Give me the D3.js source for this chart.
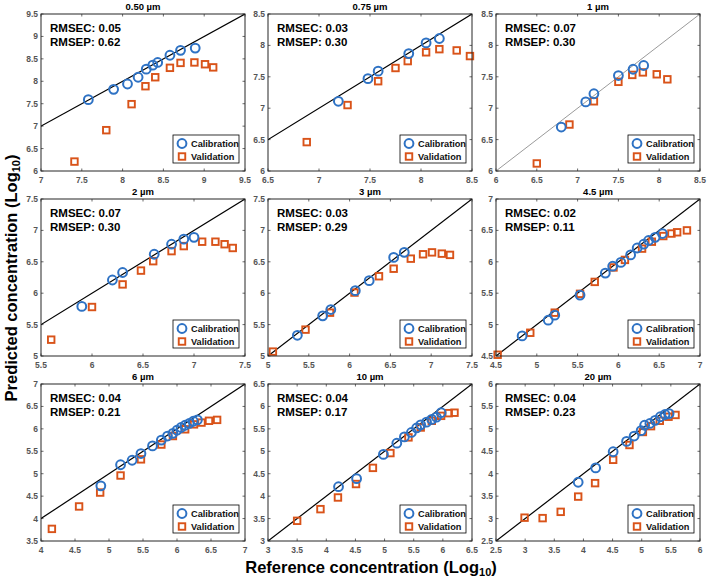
<!DOCTYPE html>
<html><head><meta charset="utf-8">
<script src="https://cdn.jsdelivr.net/npm/d3@7"></script>
<style>body{margin:0;background:#fff} text{font-family:Arial,"Liberation Sans",Helvetica,sans-serif}</style>
</head><body><svg id="c" width="709" height="579"></svg>
<script>
// ---------- data ----------
const titles = ["0.50 µm","0.75 µm","1 µm","2 µm","3 µm","4.5 µm","6 µm","10 µm","20 µm"];
const rmsec = ["0.05","0.03","0.07","0.07","0.03","0.02","0.04","0.04","0.04"];
const rmsep = ["0.62","0.30","0.30","0.30","0.29","0.11","0.21","0.17","0.23"];
const xDomains = [[7,9.5],[6.5,8.5],[6,8.5],[5.5,7.5],[5,7.5],[4.5,7],[4,7],[3,6.5],[2.5,6]];
const yDomains = [[6,9.5],[6,8.5],[6,8.5],[5,7.5],[5,7.5],[4.5,7],[3.5,7],[3,6.5],[2.5,6]];
const calRef = [
  [7.58,7.89,8.06,8.19,8.29,8.37,8.43,8.58,8.71,8.89],
  [7.19,7.48,7.58,7.88,8.05,8.18],
  [6.80,7.10,7.20,7.50,7.68,7.81],
  [5.90,6.20,6.30,6.61,6.78,6.90,7.00],
  [5.36,5.67,5.77,6.07,6.24,6.54,6.67],
  [4.82,5.14,5.22,5.53,5.84,5.93,6.03,6.15,6.23,6.31,6.37,6.45,6.54],
  [4.88,5.17,5.34,5.47,5.64,5.77,5.86,5.94,6.00,6.06,6.12,6.18,6.24,6.30],
  [4.21,4.52,4.98,5.21,5.34,5.46,5.55,5.62,5.72,5.81,5.89,5.97],
  [3.91,4.21,4.51,4.74,4.87,4.99,5.05,5.14,5.23,5.32,5.40,5.47]
];
const calPred = [
  [7.59,7.82,7.94,8.09,8.27,8.36,8.42,8.58,8.69,8.74],
  [7.11,7.47,7.59,7.87,8.04,8.11],
  [6.70,7.10,7.23,7.52,7.62,7.68],
  [5.79,6.21,6.33,6.62,6.78,6.86,6.89],
  [5.33,5.64,5.74,6.04,6.20,6.57,6.65],
  [4.82,5.07,5.15,5.47,5.82,5.93,5.99,6.11,6.22,6.28,6.34,6.39,6.45],
  [4.73,5.20,5.30,5.45,5.62,5.75,5.84,5.90,5.97,6.03,6.08,6.12,6.17,6.20],
  [4.21,4.39,4.93,5.18,5.32,5.42,5.52,5.59,5.65,5.71,5.76,5.86],
  [3.81,4.13,4.49,4.72,4.84,4.96,5.08,5.12,5.19,5.27,5.32,5.34]
];
const valRef = [
  [7.41,7.80,8.11,8.28,8.40,8.58,8.71,8.88,9.01,9.11],
  [6.88,7.28,7.58,7.75,7.87,8.05,8.18,8.35,8.48],
  [6.50,6.90,7.20,7.50,7.67,7.80,7.97,8.10],
  [5.60,6.00,6.30,6.48,6.60,6.78,6.90,7.08,7.21,7.30,7.38],
  [5.06,5.46,5.76,6.06,6.36,6.54,6.75,6.90,7.01,7.13,7.23],
  [4.52,4.92,5.22,5.53,5.71,5.94,6.08,6.29,6.41,6.55,6.65,6.72,6.84],
  [4.16,4.56,4.87,5.17,5.47,5.77,5.94,6.12,6.25,6.36,6.47,6.59],
  [3.50,3.90,4.20,4.51,4.80,5.10,5.41,5.62,5.81,5.97,6.10,6.20],
  [2.99,3.30,3.61,3.91,4.20,4.51,4.79,5.02,5.16,5.31,5.46,5.58]
];
const valPred = [
  [6.21,6.91,7.49,7.89,8.09,8.30,8.41,8.42,8.38,8.31],
  [6.46,7.05,7.43,7.64,7.75,7.89,7.94,7.92,7.83],
  [6.12,6.74,7.11,7.42,7.53,7.57,7.54,7.46],
  [5.26,5.78,6.14,6.36,6.51,6.67,6.75,6.82,6.82,6.78,6.72],
  [5.07,5.42,5.69,6.01,6.27,6.39,6.55,6.62,6.65,6.63,6.61],
  [4.52,4.87,5.19,5.49,5.68,5.91,6.03,6.21,6.32,6.41,6.45,6.47,6.50],
  [3.77,4.27,4.58,4.96,5.32,5.65,5.84,5.99,6.10,6.14,6.18,6.20],
  [3.45,3.71,3.97,4.27,4.63,4.96,5.31,5.53,5.68,5.79,5.85,5.86],
  [3.02,3.01,3.15,3.49,3.79,4.31,4.64,4.93,5.06,5.18,5.27,5.31]
];
const legendLabels = ["Calibration","Validation"];
const xAxisLabel = "Reference concentration (Log";
const yAxisLabel = "Predicted concentration (Log";
const logSub = "10";

// ---------- layout ----------
const lefts = [41, 268, 496], tops = [14, 199, 384];
const W = 204, H = 157;
const blue = "#2E72C4", orange = "#D95319";
const svg = d3.select("#c");
const fmt = d => (Math.abs(d % 1) < 1e-9 ? String(d) : d.toFixed(1));

titles.forEach((t, i) => {
  const L = lefts[i % 3], T = tops[Math.floor(i / 3)];
  const x = d3.scaleLinear().domain(xDomains[i]).range([L, L + W]);
  const y = d3.scaleLinear().domain(yDomains[i]).range([T + H, T]);
  const g = svg.append("g");
  const clipId = "clip" + i;
  svg.append("clipPath").attr("id", clipId).append("rect")
    .attr("x", L).attr("y", T).attr("width", W).attr("height", H);

  const xt = d3.range(xDomains[i][0], xDomains[i][1] + 1e-9, 0.5);
  const yt = d3.range(yDomains[i][0], yDomains[i][1] + 1e-9, 0.5);

  // ticks (inward, on all sides)
  const tk = g.append("g").attr("stroke", "#444").attr("stroke-width", 0.8);
  xt.forEach(v => {
    tk.append("line").attr("x1", x(v)).attr("x2", x(v)).attr("y1", T + H).attr("y2", T + H - 2.5);
    tk.append("line").attr("x1", x(v)).attr("x2", x(v)).attr("y1", T).attr("y2", T + 2.5);
  });
  yt.forEach(v => {
    tk.append("line").attr("y1", y(v)).attr("y2", y(v)).attr("x1", L).attr("x2", L + 2.5);
    tk.append("line").attr("y1", y(v)).attr("y2", y(v)).attr("x1", L + W).attr("x2", L + W - 2.5);
  });
  // tick labels
  g.append("g").selectAll("text").data(xt).join("text")
    .attr("x", d => x(d)).attr("y", T + H + 11.5).attr("text-anchor", "middle")
    .attr("font-size", 8.5).attr("font-weight", "bold").attr("fill", "#555").text(fmt);
  g.append("g").selectAll("text").data(yt).join("text")
    .attr("x", L - 3).attr("y", d => y(d) + 3).attr("text-anchor", "end")
    .attr("font-size", 8.5).attr("font-weight", "bold").attr("fill", "#555").text(fmt);

  // diagonal 1:1 line
  const lo = Math.min(xDomains[i][0], yDomains[i][0]) - 1, hi = Math.max(xDomains[i][1], yDomains[i][1]) + 1;
  g.append("line").attr("clip-path", `url(#${clipId})`)
    .attr("x1", x(lo)).attr("y1", y(lo)).attr("x2", x(hi)).attr("y2", y(hi))
    .attr("stroke", i === 2 ? "#555" : "#000").attr("stroke-width", i === 2 ? 0.6 : 1.2);

  // validation squares
  const s = 6.5;
  g.append("g").selectAll("rect").data(valRef[i].map((v, k) => [v, valPred[i][k]])).join("rect")
    .attr("x", d => x(d[0]) - s / 2).attr("y", d => y(d[1]) - s / 2)
    .attr("width", s).attr("height", s).attr("fill", "none").attr("stroke", orange).attr("stroke-width", 1.9);
  // calibration circles
  g.append("g").selectAll("circle").data(calRef[i].map((v, k) => [v, calPred[i][k]])).join("circle")
    .attr("cx", d => x(d[0])).attr("cy", d => y(d[1])).attr("r", 4.4)
    .attr("fill", "none").attr("stroke", blue).attr("stroke-width", 2);

  // frame
  g.append("rect").attr("x", L).attr("y", T).attr("width", W).attr("height", H)
    .attr("fill", "none").attr("stroke", "#262626").attr("stroke-width", 1);

  // title
  g.append("text").attr("x", L + W / 2).attr("y", T - 4).attr("text-anchor", "middle")
    .attr("font-size", 9.5).attr("font-weight", "bold").attr("fill", "#000").text(t);

  // RMSE text
  g.append("text").attr("x", L + 9).attr("y", T + 17.5).attr("font-size", 11.5)
    .attr("font-weight", "bold").attr("fill", "#000").text("RMSEC: " + rmsec[i]);
  g.append("text").attr("x", L + 9).attr("y", T + 31.5).attr("font-size", 11.5)
    .attr("font-weight", "bold").attr("fill", "#000").text("RMSEP: " + rmsep[i]);

  // legend
  const bx = L + W - 72, by = T + H - 36;
  const lg = g.append("g");
  lg.append("rect").attr("x", bx).attr("y", by).attr("width", 66).attr("height", 28)
    .attr("fill", "#fff").attr("stroke", "#000").attr("stroke-width", 0.8);
  lg.append("circle").attr("cx", bx + 9).attr("cy", by + 8.5).attr("r", 4.4)
    .attr("fill", "none").attr("stroke", blue).attr("stroke-width", 2);
  lg.append("rect").attr("x", bx + 5.75).attr("y", by + 18.25).attr("width", 6.5).attr("height", 6.5)
    .attr("fill", "none").attr("stroke", orange).attr("stroke-width", 1.9);
  legendLabels.forEach((lab, k) => {
    lg.append("text").attr("x", bx + 18).attr("y", by + 11.5 + k * 13.5).attr("font-size", 9.2)
      .attr("font-weight", "bold").attr("fill", "#111").text(lab);
  });
});

// axis titles
const xl = svg.append("text").attr("x", 371).attr("y", 573).attr("text-anchor", "middle")
  .attr("font-size", 16.5).attr("font-weight", "bold").attr("fill", "#000");
xl.append("tspan").text(xAxisLabel);
xl.append("tspan").attr("font-size", 11).attr("dy", 3).text(logSub);
xl.append("tspan").attr("dy", -3).text(")");

const yl = svg.append("text").attr("transform", "translate(17,278) rotate(-90)").attr("text-anchor", "middle")
  .attr("font-size", 16.5).attr("font-weight", "bold").attr("fill", "#000");
yl.append("tspan").text(yAxisLabel);
yl.append("tspan").attr("font-size", 11).attr("dy", 3).text(logSub);
yl.append("tspan").attr("dy", -3).text(")");
</script></body></html>
